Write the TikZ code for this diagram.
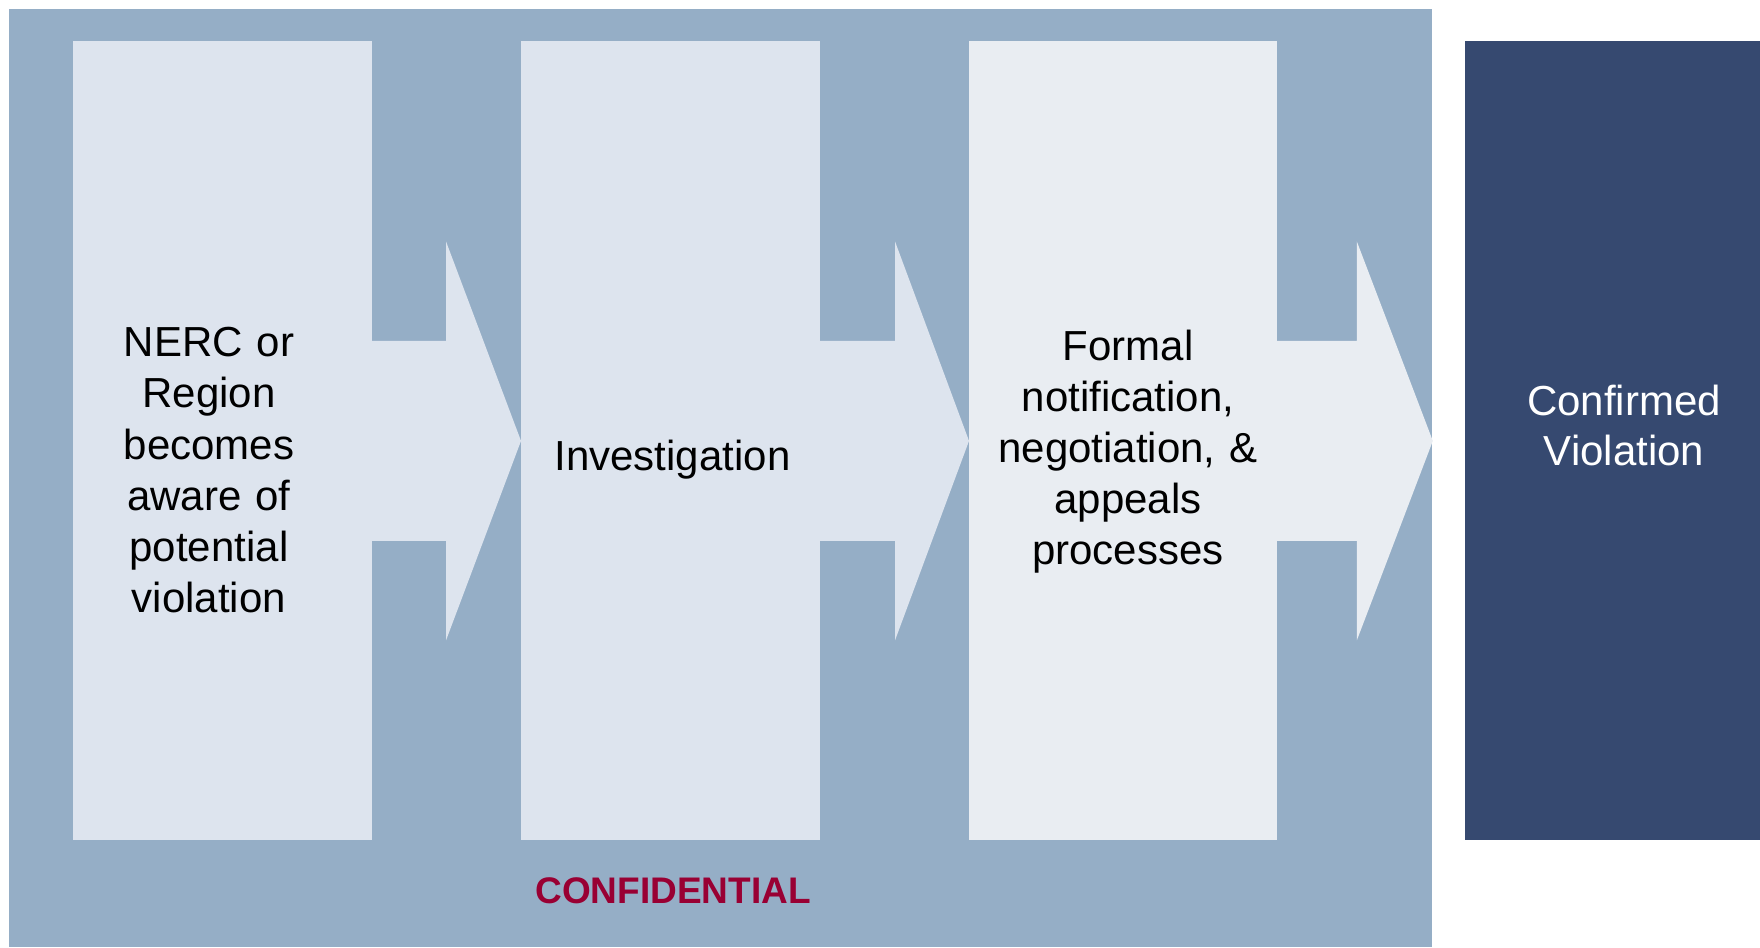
\documentclass[tikz,border=0pt]{standalone}
\usepackage{fontspec}
\setmainfont{Liberation Sans}
\usetikzlibrary{calc}
\definecolor{bgblue}{HTML}{95AEC6}
\definecolor{boxlight}{HTML}{DDE4EE}
\definecolor{boxlighter}{HTML}{E9EDF2}
\definecolor{darkblue}{HTML}{364970}
\definecolor{confred}{HTML}{990033}
\tikzset{
  panel/.style={fill=#1, draw=none, inner sep=0pt, anchor=north west},
  steptext/.style={anchor=base, text width=150pt, align=center, inner sep=0pt,
    font=\fontsize{21pt}{25.6pt}\selectfont},
}
\begin{document}
\begin{tikzpicture}[x=0.5pt,y=-0.5pt]
\useasboundingbox (0,0) rectangle (1760,947);
% background panel
\node[panel=bgblue, minimum width=711.5pt, minimum height=469pt] (bg) at (9,9) {};
% step boxes
\node[panel=boxlight, minimum width=149.5pt, minimum height=399.5pt] (b1) at (73,41) {};
\node[panel=boxlight, minimum width=149.5pt, minimum height=399.5pt] (b2) at (521,41) {};
\node[panel=boxlighter, minimum width=154pt, minimum height=399.5pt] (b3) at (969,41) {};
\node[panel=darkblue, minimum width=147.5pt, minimum height=399.5pt] (b4) at (1465,41) {};
\coordinate (tip3) at (bg.east |- b3.east);
% arrows
\fill[boxlight] ($(b1.east)+(-2,-100)$) -- ($(b2.west)+(-75,-100)$) -- ($(b2.west)+(-75,-199.5)$)
  -- (b2.west) -- ($(b2.west)+(-75,199.5)$) -- ($(b2.west)+(-75,100)$) -- ($(b1.east)+(-2,100)$) -- cycle;
\fill[boxlight] ($(b2.east)+(-2,-100)$) -- ($(b3.west)+(-74,-100)$) -- ($(b3.west)+(-74,-199.5)$)
  -- (b3.west) -- ($(b3.west)+(-74,199.5)$) -- ($(b3.west)+(-74,100)$) -- ($(b2.east)+(-2,100)$) -- cycle;
\fill[boxlighter] ($(b3.east)+(-2,-100)$) -- ($(tip3)+(-76,-100)$) -- ($(tip3)+(-76,-199.5)$)
  -- (tip3) -- ($(tip3)+(-76,199.5)$) -- ($(tip3)+(-76,100)$) -- ($(b3.east)+(-2,100)$) -- cycle;
% texts
\node[steptext] (t1) at (209,356.7) {NERC or\\Region\\becomes\\aware of\\potential\\violation};
\node[steptext] (t2) at (672.5,470) {Investigation};
\node[steptext] (t3) at (1128,360) {Formal\\notification,\\negotiation, \&\\appeals\\processes};
\node[steptext, text=white, font=\fontsize{21pt}{25pt}\selectfont] (t4) at (1624,415) {Confirmed\\Violation};
\node[anchor=base, inner sep=0pt, text=confred, font=\fontsize{18.5pt}{22pt}\selectfont\bfseries] (conf) at (673,903) {CONFIDENTIAL};
\end{tikzpicture}
\end{document}
